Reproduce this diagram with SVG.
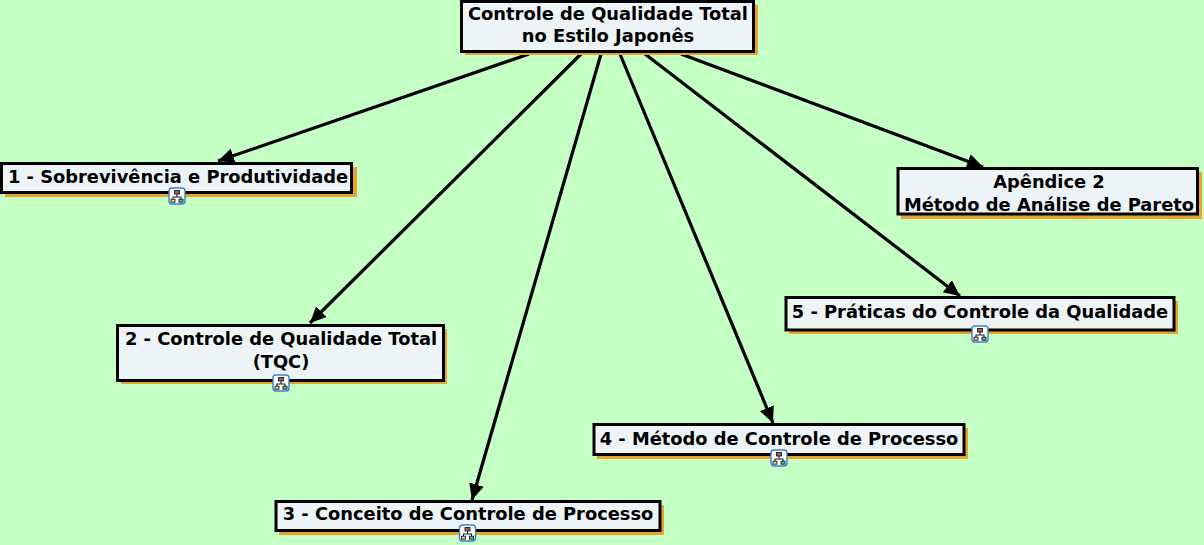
<svg xmlns="http://www.w3.org/2000/svg" width="1204" height="545" viewBox="0 0 1204 545">
<style>
.bg{fill:#c4ffc4}
.sh{fill:#e8a32e}
.box{fill:#edf4f7;stroke:#000;stroke-width:3}
text{font-family:"DejaVu Sans",Verdana,sans-serif;font-weight:700;font-size:17.85px;fill:#000;text-anchor:middle}
.c{fill:none;stroke:#000;stroke-width:3.2;marker-end:url(#a)}
.ib{fill:#fff;stroke:#3b7fd0;stroke-width:1.400}
.il{fill:none;stroke:#123;stroke-width:1.100}
</style>
<defs>
<marker id="a" markerUnits="userSpaceOnUse" markerWidth="17" markerHeight="16" refX="16" refY="8" orient="auto"><path d="M0 0.500L16 8L0 15.500z" fill="#000"/></marker>
<g id="i">
<rect class="ib" x="-8" y="-8" width="16" height="16" rx="3"/>
<path class="il" d="M0-2.500V1M-4 3.500V1H4V3.500"/>
<rect x="-2.500" y="-5.500" width="5" height="3.500" fill="#b55" stroke="#123" stroke-width=".9"/>
<rect x="-6" y="3.200" width="4" height="3" fill="#fc6" stroke="#123" stroke-width=".9"/>
<rect x="2" y="3.200" width="4" height="3" fill="#6b6" stroke="#123" stroke-width=".9"/>
</g>
</defs>
<rect class="bg" width="1204" height="545"/>
<g id="connectors">
<path class="c" d="M529 54L218 161"/>
<path class="c" d="M581 54L310 323"/>
<path class="c" d="M601 54L472 500"/>
<path class="c" d="M620 54L773 423"/>
<path class="c" d="M645 54L960 296"/>
<path class="c" d="M681 54L983 167"/>
</g>
<g id="root"><rect class="sh" x="465" y="5" width="293" height="50"/><rect class="box" x="461.500" y="1.500" width="292" height="50"/><text x="608" y="20">Controle de Qualidade Total</text><text x="608" y="42">no Estilo Japonês</text></g>
<g id="n1"><rect class="sh" x="5" y="167" width="352" height="30"/><rect class="box" x="1.500" y="163.500" width="350" height="29"/><text x="178" y="183">1 - Sobrevivência e Produtividade</text><use href="#i" x="177" y="196"/></g>
<g id="n2"><rect class="sh" x="121" y="329" width="326" height="55"/><rect class="box" x="117.500" y="325.500" width="326" height="55"/><text x="281" y="345">2 - Controle de Qualidade Total</text><text x="281" y="368">(TQC)</text><use href="#i" x="281" y="383"/></g>
<g id="n3"><rect class="sh" x="279" y="505" width="385" height="30"/><rect class="box" x="276" y="501.500" width="384" height="29"/><text x="468" y="520">3 - Conceito de Controle de Processo</text><use href="#i" x="467.500" y="533"/></g>
<g id="n4"><rect class="sh" x="597" y="428" width="371" height="31"/><rect class="box" x="594" y="424.500" width="370" height="30"/><text x="779" y="445">4 - Método de Controle de Processo</text><use href="#i" x="779" y="458"/></g>
<g id="n5"><rect class="sh" x="789" y="301" width="389" height="33"/><rect class="box" x="786" y="297.500" width="388" height="32.500"/><text x="980" y="318">5 - Práticas do Controle da Qualidade</text><use href="#i" x="980" y="334"/></g>
<g id="ap"><rect class="sh" x="901" y="172" width="301" height="47"/><rect class="box" x="898" y="168.500" width="299.500" height="45.500"/><text x="1049" y="188">Apêndice 2</text><text x="1049" y="211">Método de Análise de Pareto</text></g>
</svg>
